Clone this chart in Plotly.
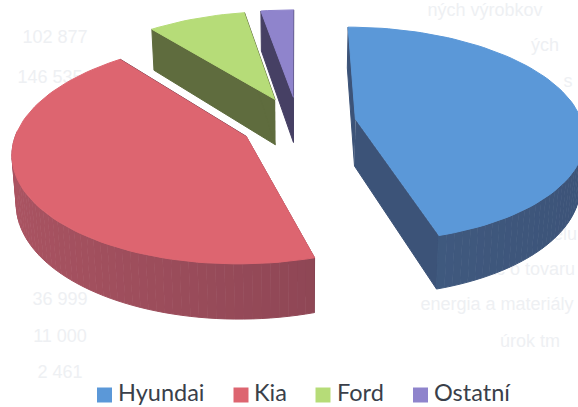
import numpy as np
import plotly.graph_objects as go

categories = ["Hyundai", "Kia", "Ford", "Ostatní"]
shares = [45.4, 43.8, 8.1, 2.7]
top_colors = ["#5b98d8", "#dd6570", "#b6dc78", "#8f84cc"]
side_dark = ["#3c5378", "#7f3f4e", "#5f6c3e", "#464064"]
side_light = ["#466389", "#ab5462", "#6a7845", "#504a70"]
ghost_texts = ["ných výrobkov", "ých", "s", "102 877", "146 535",
               "pelu", "nie prác o tovaru", "energia a materiály", "úrok tm",
               "36 999", "11 000", "2 461"]
ghost_x = [485, 545, 568, 55, 50, 560, 508, 497, 530, 60, 60, 60]
ghost_y = [11, 46, 82, 38, 78, 235, 270, 305, 342, 300, 337, 373]
key_swatch_x = [104.5, 241, 323, 420.5]
key_text_x = [118, 254, 337, 434]
KEY_Y = 395

# perspective model of the tilted pie
XV, YV, H, F, R, EXPLODE, W0, X0 = 295, -648, 768, 1650, 0.137, 0.035, 0.9955, 0.002
THICK, TAPER = 46.5, 0.985


def project(x, w, down=False):
    px = XV + F * x / w
    py = YV + H / w
    if down:
        px = XV + (px - XV) * TAPER
        py = py + THICK / w
    return px, py


def hexmix(a, b, t):
    ca = [int(a[i:i + 2], 16) for i in (1, 3, 5)]
    cb = [int(b[i:i + 2], 16) for i in (1, 3, 5)]
    return "#" + "".join(f"{round(p + (q - p) * t):02x}" for p, q in zip(ca, cb))


def poly(fig, xs, ys, color):
    fig.add_trace(go.Scatter(x=list(xs), y=list(ys), mode="lines", fill="toself", fillcolor=color,
                             line=dict(color=color, width=1), hoverinfo="skip", showlegend=False))


fig = go.Figure()

fig.add_trace(go.Scatter(x=ghost_x, y=ghost_y, mode="text", text=ghost_texts, hoverinfo="skip",
                         showlegend=False,
                         textfont=dict(family="Liberation Sans", size=18, color="#eef0f3")))

edges = np.cumsum([0] + shares) / sum(shares) * 2 * np.pi
spans = list(zip(edges[:-1], edges[1:]))

for idx in [3, 2, 1, 0]:
    a0, a1 = spans[idx]
    mid = (a0 + a1) / 2
    ox = X0 + EXPLODE * np.sin(mid)
    ow = W0 + EXPLODE * np.cos(mid)
    th = np.linspace(a0, a1, max(6, int((a1 - a0) * 30)))
    xa = ox + R * np.sin(th)
    wa = ow + R * np.cos(th)
    # radial walls
    for a in (a0, a1):
        ex, ew = ox + R * np.sin(a), ow + R * np.cos(a)
        p = [project(ox, ow), project(ex, ew), project(ex, ew, True), project(ox, ow, True)]
        poly(fig, [q[0] for q in p], [q[1] for q in p], side_dark[idx])
    # outer wall: only the part that faces the viewer
    for i in range(len(th) - 1):
        m = (th[i] + th[i + 1]) / 2
        if np.cos(m) > 0.05:
            continue
        t = (1 - np.sin(m)) / 2
        p = [project(xa[i], wa[i]), project(xa[i + 1], wa[i + 1]),
             project(xa[i + 1], wa[i + 1], True), project(xa[i], wa[i], True)]
        poly(fig, [q[0] for q in p], [q[1] for q in p], hexmix(side_dark[idx], side_light[idx], t))
    # top face
    tx, ty = project(np.r_[ox, xa], np.r_[ow, wa])
    poly(fig, tx, ty, top_colors[idx])

# colour key
fig.add_trace(go.Scatter(x=key_swatch_x, y=[KEY_Y] * 4, mode="markers", hoverinfo="skip", showlegend=False,
                         marker=dict(symbol="square", size=15, color=top_colors, line=dict(width=0))))
fig.add_trace(go.Scatter(x=key_text_x, y=[KEY_Y] * 4, mode="text", text=categories, textposition="middle right",
                         hoverinfo="skip", showlegend=False,
                         textfont=dict(family="Lato", size=23.5, color="#3a3f4a")))

fig.update_layout(
    width=578, height=407, margin=dict(l=0, r=0, t=0, b=0, autoexpand=False),
    paper_bgcolor="#ffffff", plot_bgcolor="#ffffff", showlegend=False,
    xaxis=dict(range=[0, 578], visible=False, fixedrange=True),
    yaxis=dict(range=[407, 0], visible=False, fixedrange=True),
)

fig.write_html("out.html", config={"displayModeBar": False},
               post_script="document.body.style.margin='0';document.body.style.overflow='hidden';")
